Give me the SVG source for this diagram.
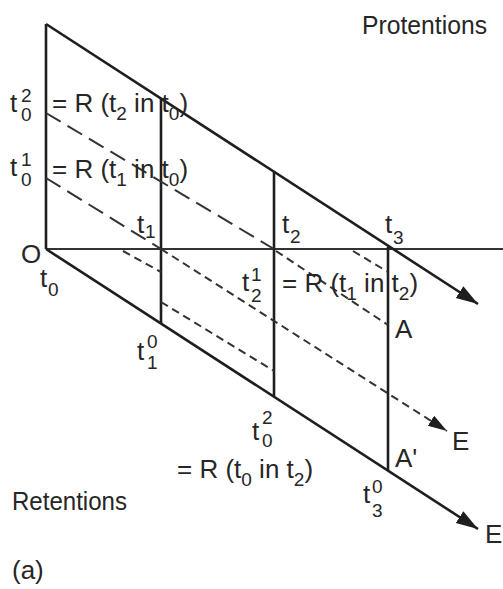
<svg xmlns="http://www.w3.org/2000/svg" width="503" height="589" viewBox="0 0 503 589">
<style>
text{font-family:"Liberation Sans",Arial,sans-serif;font-size:26px;fill:#262626}
.s{font-size:19px}
.solid{stroke:#1e1e1e;stroke-width:2.6;fill:none}
.axis{stroke:#333;stroke-width:2.2;fill:none}
.ld{stroke:#333;stroke-width:2;fill:none;stroke-dasharray:17 8}
.sd{stroke:#333;stroke-width:2;fill:none;stroke-dasharray:8 5}
</style>
<defs>
<marker id="ah" markerUnits="userSpaceOnUse" markerWidth="24" markerHeight="16" refX="22" refY="7" orient="auto">
<path d="M0,0 L22,7 L0,14 Z" fill="#1e1e1e"/>
</marker>
<marker id="ah2" markerUnits="userSpaceOnUse" markerWidth="22" markerHeight="14" refX="19" refY="6" orient="auto">
<path d="M0,0 L19,6 L0,12 Z" fill="#1e1e1e"/>
</marker>
</defs>
<g id="connectors">
<line class="solid" x1="46" y1="24" x2="46" y2="249"/>
<line class="axis" x1="46" y1="249" x2="503" y2="249"/>
<line class="solid" x1="46" y1="24" x2="478" y2="304" marker-end="url(#ah)"/>
<line class="solid" x1="46" y1="249" x2="478" y2="529" marker-end="url(#ah)"/>
<line class="solid" x1="161" y1="98" x2="161" y2="323"/>
<line class="solid" x1="274" y1="171" x2="274" y2="396"/>
<line class="solid" x1="388" y1="247" x2="388" y2="470"/>
<line class="ld" x1="46" y1="113" x2="274" y2="249"/>
<line class="ld" x1="46" y1="178" x2="161" y2="249"/>
<line class="sd" x1="161" y1="249" x2="447" y2="431" marker-end="url(#ah2)"/>
<line class="sd" x1="161" y1="302" x2="274" y2="371"/>
<line class="sd" x1="276" y1="251" x2="388" y2="325"/>
<line class="sd" x1="123" y1="251" x2="161" y2="272"/>
<line class="sd" x1="353" y1="251" x2="388" y2="272"/>
</g>
<g id="labels">
<text x="362" y="34" textLength="125" lengthAdjust="spacingAndGlyphs">Protentions</text>
<text x="12" y="510" textLength="115" lengthAdjust="spacingAndGlyphs">Retentions</text>
<text x="12" y="579">(a)</text>
<text x="21" y="263">O</text>
<g id="t0"><text x="40" y="287">t</text><text class="s" x="48" y="296">0</text></g>
<g id="t1"><text x="137" y="233">t</text><text class="s" x="145" y="238">1</text></g>
<g id="t2"><text x="282" y="233">t</text><text class="s" x="290" y="243">2</text></g>
<g id="t3"><text x="385" y="233">t</text><text class="s" x="393" y="244">3</text></g>
<g id="t02top"><text x="10" y="112">t</text><text class="s" x="21" y="102">2</text><text class="s" x="21" y="121">0</text>
<text x="52" y="112">= R (t<tspan class="s" dy="8">2</tspan><tspan dy="-8"> in t</tspan><tspan class="s" dy="8">0</tspan><tspan dy="-8">)</tspan></text></g>
<g id="t01"><text x="10" y="176">t</text><text class="s" x="21" y="166">1</text><text class="s" x="21" y="186">0</text>
<text x="52" y="178">= R (t<tspan class="s" dy="8">1</tspan><tspan dy="-8"> in t</tspan><tspan class="s" dy="8">0</tspan><tspan dy="-8">)</tspan></text></g>
<g id="t10"><text x="137" y="360">t</text><text class="s" x="147" y="348">0</text><text class="s" x="147" y="369">1</text></g>
<g id="t21"><text x="242" y="291">t</text><text class="s" x="251" y="281">1</text><text class="s" x="251" y="302">2</text>
<text x="282" y="292">= R (t<tspan class="s" dy="8">1</tspan><tspan dy="-8"> in t</tspan><tspan class="s" dy="8">2</tspan><tspan dy="-8">)</tspan></text></g>
<g id="A"><text x="395" y="338">A</text></g>
<g id="E1"><text x="452" y="450">E</text></g>
<g id="A2"><text x="395" y="467">A'</text></g>
<g id="t02bottom"><text x="252" y="440">t</text><text class="s" x="262" y="424">2</text><text class="s" x="262" y="447">0</text>
<text x="177" y="478">= R (t<tspan class="s" dy="8">0</tspan><tspan dy="-8"> in t</tspan><tspan class="s" dy="8">2</tspan><tspan dy="-8">)</tspan></text></g>
<g id="t30"><text x="363" y="503">t</text><text class="s" x="372" y="493">0</text><text class="s" x="372" y="517">3</text></g>
<g id="E2"><text x="485" y="543">E</text></g>
</g>
</svg>
